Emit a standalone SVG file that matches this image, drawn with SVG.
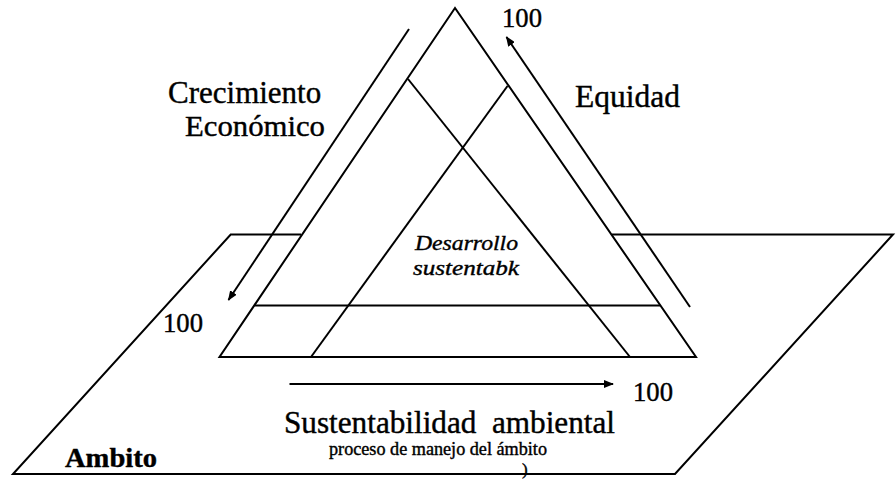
<svg xmlns="http://www.w3.org/2000/svg" width="896" height="481" viewBox="0 0 896 481">
<style>
.ln{fill:none;stroke:#000;stroke-width:2;stroke-linejoin:miter}
.t{font-family:'Liberation Serif',serif;fill:#000;stroke:#000;stroke-width:0.4}
</style>
<defs>
<marker id="ah" viewBox="0 0 10 8" refX="9" refY="4" markerWidth="10" markerHeight="8" markerUnits="userSpaceOnUse" orient="auto">
<path d="M0,0 L10,4 L0,8 Z" fill="#000"/>
</marker>
</defs>
<rect width="896" height="481" fill="#fff"/>
<g id="plane">
<path class="ln" d="M301,234.5 H230.7 L13,474 H675 L893,234.5 H612"/>
</g>
<g id="triangle">
<polygon class="ln" points="455,8 219.5,357 696,357"/>
<line class="ln" x1="254.5" y1="305.5" x2="660" y2="305.5"/>
<line class="ln" x1="408" y1="79" x2="630" y2="357"/>
<line class="ln" x1="507.5" y1="86" x2="311" y2="357"/>
</g>
<g id="connectors">
<line class="ln" x1="409" y1="29" x2="228.5" y2="300" marker-end="url(#ah)"/>
<line class="ln" x1="690" y1="307" x2="506.5" y2="37" marker-end="url(#ah)"/>
<line class="ln" x1="289.5" y1="384" x2="613" y2="384" marker-end="url(#ah)"/>
</g>
<g id="labels">
<text class="t" x="502" y="27" font-size="28" textLength="40" lengthAdjust="spacingAndGlyphs">100</text>
<text class="t" x="575" y="107" font-size="31" textLength="105" lengthAdjust="spacingAndGlyphs">Equidad</text>
<text class="t" x="168" y="103" font-size="31">Crecimiento</text>
<text class="t" x="185" y="136" font-size="30" textLength="140" lengthAdjust="spacingAndGlyphs">Económico</text>
<text class="t" x="415" y="250" font-size="22" font-style="italic" textLength="103" lengthAdjust="spacingAndGlyphs">Desarrollo</text>
<text class="t" x="413" y="275" font-size="22" font-style="italic" textLength="106" lengthAdjust="spacingAndGlyphs">sustentabk</text>
<text class="t" x="163" y="332" font-size="28" textLength="40" lengthAdjust="spacingAndGlyphs">100</text>
<text class="t" x="633" y="401" font-size="28" textLength="40" lengthAdjust="spacingAndGlyphs">100</text>
<text class="t" x="284" y="433" font-size="31" textLength="331" lengthAdjust="spacingAndGlyphs" style="white-space:pre">Sustentabilidad  ambiental</text>
<text class="t" x="329" y="455" font-size="18" textLength="218" lengthAdjust="spacingAndGlyphs">proceso de manejo del ámbito</text>
<text class="t" x="65" y="467" font-size="28" font-weight="bold" textLength="92" lengthAdjust="spacingAndGlyphs">Ambito</text>
<text class="t" x="522" y="475" font-size="17">)</text>
</g>
</svg>
